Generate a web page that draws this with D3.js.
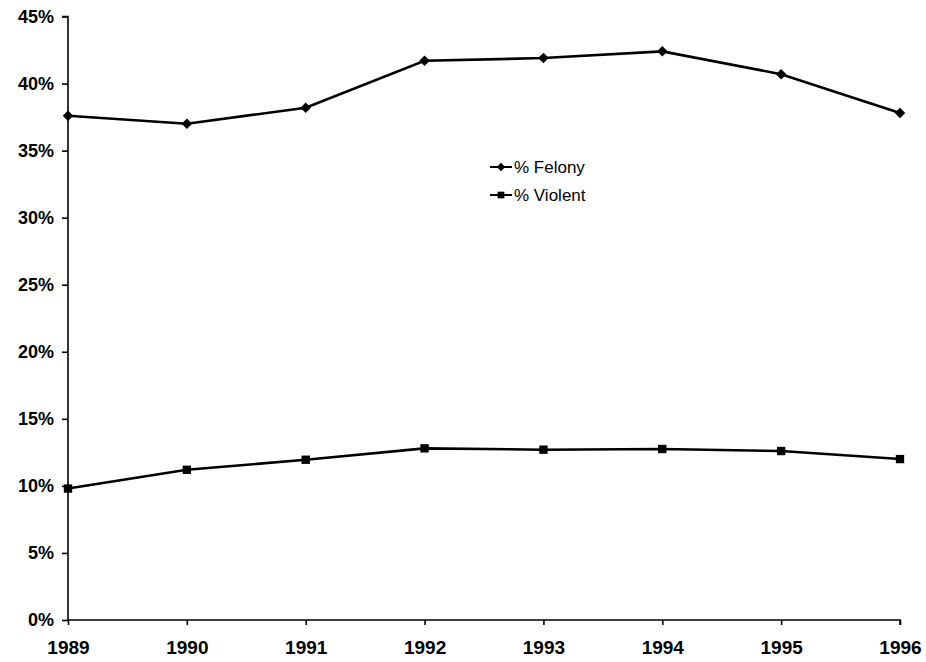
<!DOCTYPE html>
<html>
<head>
<meta charset="utf-8">
<script src="https://cdn.jsdelivr.net/npm/d3@7"></script>
<style>
  body { margin: 0; background: #fff; }
  svg { display: block; font-family: "Liberation Sans", Arial, sans-serif; }
</style>
</head>
<body>
<svg id="chart" width="926" height="662"></svg>
<script>
'use strict';
// data
const years = [1989, 1990, 1991, 1992, 1993, 1994, 1995, 1996];
const felony = [37.6, 37.0, 38.2, 41.7, 41.9, 42.4, 40.7, 37.8];
const violent = [9.8, 11.2, 11.95, 12.8, 12.7, 12.75, 12.6, 12.0];
const yTicks = [0, 5, 10, 15, 20, 25, 30, 35, 40, 45];

const svg = d3.select('#chart');
const font = '"Liberation Sans", Arial, sans-serif';

const x = d3.scaleLinear()
  .domain([1989, 1996])
  .range([68, 900]);

const y = d3.scaleLinear()
  .domain([0, 45])
  .range([620, 16.5]);

// y axis
const yAxis = svg.append('g')
  .attr('transform', 'translate(68,0)')
  .call(d3.axisLeft(y).tickValues(yTicks).tickSize(6).tickPadding(8).tickFormat(d => `${d}%`));
yAxis.select('.domain').attr('stroke-width', 1.6).attr('d', `M-6,${y(45)}H0V${y(0)}`);
yAxis.selectAll('text')
  .attr('font-size', 18)
  .attr('font-weight', 'bold')
  .attr('fill', '#000')
  .attr('font-family', font);
yAxis.selectAll('line').attr('stroke-width', 1.6);

// x axis
const xAxis = svg.append('g')
  .attr('transform', `translate(0,${y(0)})`)
  .call(d3.axisBottom(x).tickValues(years).tickSize(5).tickPadding(16).tickFormat(d3.format('d')));
xAxis.select('.domain').attr('stroke-width', 1.6).attr('d', `M${x(1989)},0H${x(1996)}V5`);
xAxis.selectAll('text')
  .attr('font-size', 19)
  .attr('font-weight', 'bold')
  .attr('fill', '#000')
  .attr('font-family', font);
xAxis.selectAll('line').attr('stroke-width', 1.6);

const line = d3.line()
  .x((d, i) => x(years[i]))
  .y(d => y(d));

// diamond = square turned 45 degrees
const diamond = { d: d3.symbol().type(d3.symbolSquare).size(55)(), rot: 45 };
const square = { d: d3.symbol().type(d3.symbolSquare).size(70)(), rot: 0 };

[[felony, diamond], [violent, square]].forEach(([vals, sym]) => {
  svg.append('path')
    .datum(vals)
    .attr('d', line)
    .attr('fill', 'none')
    .attr('stroke', '#000')
    .attr('stroke-width', 2.6);
  svg.selectAll(null)
    .data(vals)
    .join('path')
    .attr('d', sym.d)
    .attr('transform', (d, i) => `translate(${x(years[i])},${y(d)}) rotate(${sym.rot})`)
    .attr('fill', '#000');
});

// legend
const legend = [['% Felony', diamond], ['% Violent', square]];
legend.forEach(([label, sym], i) => {
  const ly = 167 + i * 28;
  svg.append('line')
    .attr('x1', 490).attr('x2', 512)
    .attr('y1', ly).attr('y2', ly)
    .attr('stroke', '#000').attr('stroke-width', 2);
  svg.append('path')
    .attr('d', sym.d)
    .attr('transform', `translate(501,${ly}) rotate(${sym.rot}) scale(0.8)`)
    .attr('fill', '#000');
  svg.append('text')
    .attr('x', 514)
    .attr('y', ly + 6)
    .attr('font-size', 17)
    .attr('fill', '#000')
    .text(label);
});
</script>
</body>
</html>
